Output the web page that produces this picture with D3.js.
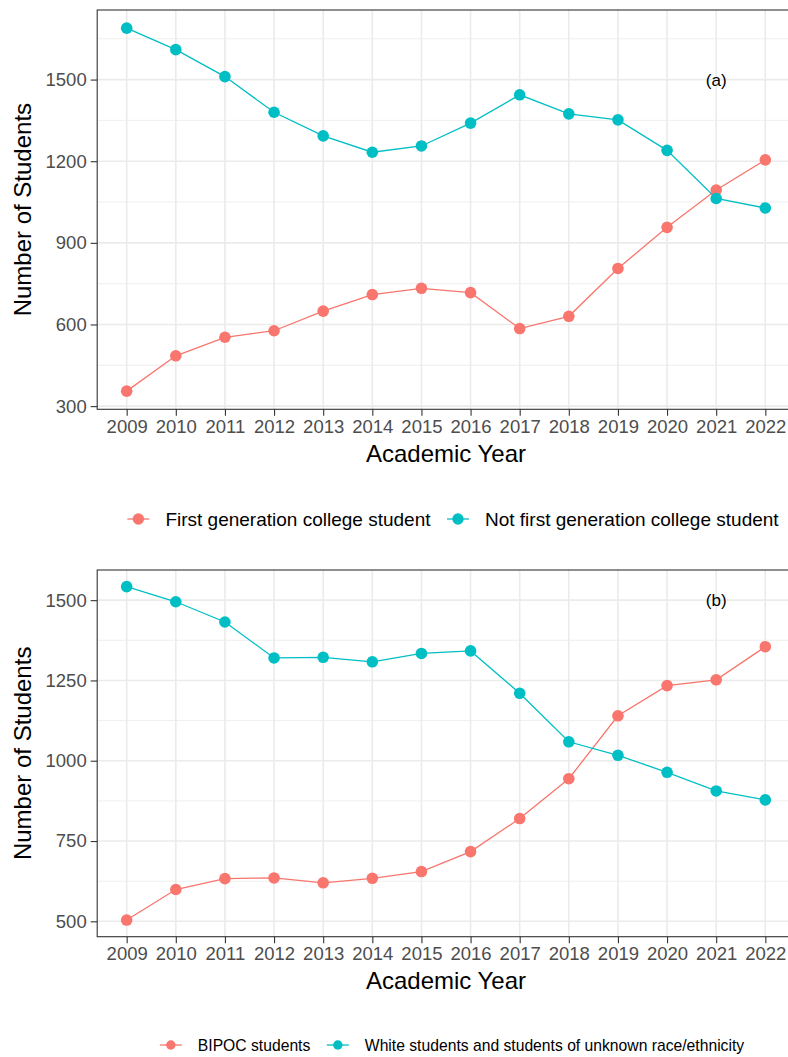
<!DOCTYPE html>
<html>
<head>
<meta charset="utf-8">
<script src="https://cdn.jsdelivr.net/npm/d3@7"></script>
<style>
  html, body { margin: 0; padding: 0; background: #ffffff; }
  svg { display: block; font-family: "Liberation Sans", Arial, Helvetica, sans-serif; }
</style>
</head>
<body>
<svg id="chart" width="788" height="1057"></svg>
<script>
// Academic years on the x axis
const years = [2009, 2010, 2011, 2012, 2013, 2014, 2015, 2016, 2017, 2018, 2019, 2020, 2021, 2022];

// Panel (a): first-generation status
const firstGen    = [355, 485, 553, 577, 649, 710, 733, 717, 585, 630, 806, 957, 1094, 1205];
const notFirstGen = [1689, 1610, 1511, 1380, 1293, 1233, 1256, 1340, 1444, 1374, 1352, 1240, 1063, 1028];
const ticksA = [300, 600, 900, 1200, 1500];
const seriesNamesA = ["First generation college student", "Not first generation college student"];

// Panel (b): race / ethnicity
const bipoc        = [504, 599, 633, 635, 620, 634, 655, 717, 820, 944, 1140, 1234, 1252, 1355];
const whiteUnknown = [1542, 1495, 1432, 1320, 1322, 1308, 1334, 1342, 1210, 1059, 1017, 964, 906, 878];
const ticksB = [500, 750, 1000, 1250, 1500];
const seriesNamesB = ["BIPOC students", "White students and students of unknown race/ethnicity"];

const colors = ["#F8766D", "#00BFC4"];

const svg = d3.select("#chart");
svg.append("rect").attr("width", 788).attr("height", 1057).attr("fill", "#fff");

function drawPanel(opts) {
  const { left, right, top, bottom, series, ticks, tag } = opts;
  const g = svg.append("g");

  const x = d3.scalePoint().domain(years).range([left, right]).padding(0.6);

  // 5% expansion of the data range
  const all = series.flat();
  const [lo, hi] = d3.extent(all);
  const pad = (hi - lo) * 0.05;
  const y = d3.scaleLinear().domain([lo - pad, hi + pad]).range([bottom, top]);

  const clipId = "clip-" + tag.replace(/\W/g, "");
  svg.append("clipPath").attr("id", clipId)
    .append("rect").attr("x", left).attr("y", top).attr("width", right - left).attr("height", bottom - top);

  const plot = g.append("g").attr("clip-path", `url(#${clipId})`);

  // minor grid: halfway between major breaks, one step beyond each end
  const step = ticks[1] - ticks[0];
  const ext = [ticks[0] - step, ...ticks, ticks[ticks.length - 1] + step];
  const minor = [];
  for (let i = 0; i < ext.length - 1; i++) minor.push((ext[i] + ext[i + 1]) / 2);
  const [d0, d1] = y.domain();
  plot.selectAll(".minor").data(minor.filter(v => v >= d0 && v <= d1)).join("line")
    .attr("x1", left).attr("x2", right)
    .attr("y1", d => y(d)).attr("y2", d => y(d))
    .attr("stroke", "#ebebeb").attr("stroke-width", 0.8);

  plot.selectAll(".majorY").data(ticks).join("line")
    .attr("x1", left).attr("x2", right)
    .attr("y1", d => y(d)).attr("y2", d => y(d))
    .attr("stroke", "#ebebeb").attr("stroke-width", 1.6);

  plot.selectAll(".majorX").data(years).join("line")
    .attr("x1", d => x(d)).attr("x2", d => x(d))
    .attr("y1", top).attr("y2", bottom)
    .attr("stroke", "#ebebeb").attr("stroke-width", 1.6);

  // lines and points
  const line = d3.line().x((d, i) => x(years[i])).y(d => y(d));
  series.forEach((vals, si) => {
    plot.append("path").datum(vals)
      .attr("d", line).attr("fill", "none")
      .attr("stroke", colors[si]).attr("stroke-width", 1.3);
  });
  series.forEach((vals, si) => {
    plot.selectAll(".pt" + si).data(vals).join("circle")
      .attr("cx", (d, i) => x(years[i])).attr("cy", d => y(d))
      .attr("r", 5.8).attr("fill", colors[si]);
  });

  // panel tag
  plot.append("text").attr("x", x(2021)).attr("y", y(1500))
    .attr("text-anchor", "middle").attr("dy", "0.35em")
    .attr("font-size", 17).attr("fill", "#000").text(tag);

  // border
  g.append("rect").attr("x", left).attr("y", top)
    .attr("width", right - left).attr("height", bottom - top)
    .attr("fill", "none").attr("stroke", "#333").attr("stroke-width", 1.1);

  // x axis
  const xAxis = g.append("g").attr("transform", `translate(0,${bottom})`)
    .call(d3.axisBottom(x).tickSize(6.5).tickPadding(4).tickFormat(d3.format("d")));
  xAxis.select(".domain").remove();
  xAxis.selectAll(".tick line").attr("stroke", "#333").attr("stroke-width", 1.1);
  xAxis.selectAll(".tick text").attr("fill", "#4d4d4d").attr("font-size", 18.5)
    .attr("font-family", "Liberation Sans, Arial, sans-serif");

  // y axis
  const yAxis = g.append("g").attr("transform", `translate(${left},0)`)
    .call(d3.axisLeft(y).tickValues(ticks).tickSize(6.5).tickPadding(4).tickFormat(d3.format("d")));
  yAxis.select(".domain").remove();
  yAxis.selectAll(".tick line").attr("stroke", "#333").attr("stroke-width", 1.1);
  yAxis.selectAll(".tick text").attr("fill", "#4d4d4d").attr("font-size", 18.5)
    .attr("font-family", "Liberation Sans, Arial, sans-serif");

  // axis titles
  g.append("text").attr("x", (left + right) / 2).attr("y", bottom + 52.5)
    .attr("text-anchor", "middle").attr("font-size", 24).attr("fill", "#000")
    .text("Academic Year");
  g.append("text")
    .attr("transform", `translate(31,${(top + bottom) / 2}) rotate(-90)`)
    .attr("text-anchor", "middle").attr("font-size", 24).attr("fill", "#000")
    .text("Number of Students");

  // legend
  const lg = svg.append("g");
  const fs = opts.legendSize;
  let cx = 0;
  opts.names.forEach((name, i) => {
    const it = lg.append("g").attr("transform", `translate(${cx},${opts.legendY})`);
    it.append("line").attr("x1", -11).attr("x2", 11).attr("y1", 0).attr("y2", 0)
      .attr("stroke", colors[i]).attr("stroke-width", 1.3);
    it.append("circle").attr("r", fs * 0.3).attr("fill", colors[i]);
    const t = it.append("text").attr("x", 27).attr("dy", "0.35em")
      .attr("font-size", fs).attr("fill", "#000").text(name);
    const w = t.node().getComputedTextLength();
    cx += 27 + w + 27.5;
  });
  const totalW = cx - 27.5 + 11;
  lg.attr("transform", `translate(${opts.legendCenter - totalW / 2 + 11},0)`);
}

drawPanel({
  left: 97.2, right: 794.8, top: 10, bottom: 409.3,
  series: [firstGen, notFirstGen], ticks: ticksA, tag: "(a)",
  names: seriesNamesA, legendY: 519, legendSize: 19, legendCenter: 453
});

drawPanel({
  left: 97.2, right: 794.8, top: 570, bottom: 936.7,
  series: [bipoc, whiteUnknown], ticks: ticksB, tag: "(b)",
  names: seriesNamesB, legendY: 1045, legendSize: 15.7, legendCenter: 452
});
</script>
</body>
</html>
